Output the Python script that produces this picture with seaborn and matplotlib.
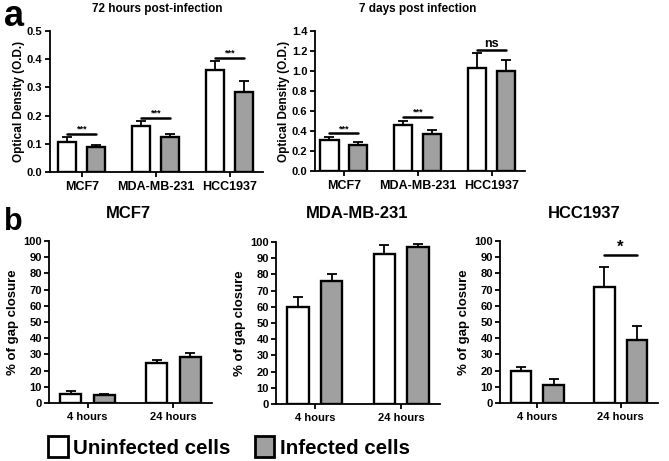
import numpy as np
import pandas as pd
import matplotlib
matplotlib.use('Agg')
import matplotlib.pyplot as plt
from matplotlib.patches import Patch
import seaborn as sns

# panel a
cells = ['MCF7', 'MDA-MB-231', 'HCC1937']
od72_uninf = [0.105, 0.163, 0.360]
od72_uninf_err = [0.018, 0.019, 0.035]
od72_inf = [0.087, 0.124, 0.284]
od72_inf_err = [0.008, 0.012, 0.037]
od72_sig = [0.135, 0.193, 0.405]
od72_sig_txt = ['***', '***', '***']

od7d_uninf = [0.315, 0.464, 1.026]
od7d_uninf_err = [0.025, 0.036, 0.154]
od7d_inf = [0.258, 0.374, 1.000]
od7d_inf_err = [0.030, 0.033, 0.110]
od7d_sig = [0.377, 0.540, 1.215]
od7d_sig_txt = ['***', '***', 'ns']

# panel b
times = ['4 hours', '24 hours']
mcf7_uninf = [5.7, 24.4]
mcf7_uninf_err = [1.5, 2.3]
mcf7_inf = [4.7, 28.1]
mcf7_inf_err = [0.8, 2.7]

mda_uninf = [60.0, 92.6]
mda_uninf_err = [6.0, 5.4]
mda_inf = [76.0, 96.9]
mda_inf_err = [4.0, 2.0]

hcc_uninf = [19.8, 71.6]
hcc_uninf_err = [2.4, 12.4]
hcc_inf = [10.9, 39.1]
hcc_inf_err = [4.1, 8.2]
hcc_sig = [None, 91.6]
hcc_sig_txt = [None, '*']

groups = ['Uninfected cells', 'Infected cells']
gray = '#a0a0a0'

sns.set_style('ticks')
plt.rcParams['font.family'] = ['Liberation Sans', 'DejaVu Sans']
plt.rcParams['font.weight'] = 'bold'
plt.rcParams['axes.labelweight'] = 'bold'
plt.rcParams['axes.linewidth'] = 1.3
plt.rcParams['xtick.major.width'] = 1.3
plt.rcParams['ytick.major.width'] = 1.3
plt.rcParams['xtick.major.size'] = 3.5
plt.rcParams['ytick.major.size'] = 3.5
for k in ['xtick.color', 'ytick.color', 'xtick.labelcolor', 'ytick.labelcolor',
          'axes.edgecolor', 'axes.labelcolor', 'text.color']:
    plt.rcParams[k] = 'black'

W, H = 669, 461
fig = plt.figure(figsize=(W / 100, H / 100), dpi=100)


def box(l, r, t, b):
    return [l / W, 1 - b / H, (r - l) / W, (b - t) / H]


def panel(ax, cats, u, ue, i, ie, ylabel, sig=None, sig_txt=None, sig_size=None):
    df = pd.DataFrame({
        'cat': cats * 2,
        'val': list(u) + list(i),
        'grp': [groups[0]] * len(cats) + [groups[1]] * len(cats),
    })
    sns.barplot(data=df, x='cat', y='val', hue='grp', palette=['white', gray],
                edgecolor='black', linewidth=1.7, width=0.78, gap=0.37,
                errorbar=None, legend=False, ax=ax)
    for cont, err in zip(ax.containers, [ue, ie]):
        xs = [p.get_x() + p.get_width() / 2 for p in cont.patches]
        ys = [p.get_height() for p in cont.patches]
        ax.errorbar(xs, ys, yerr=[np.zeros(len(err)), err], fmt='none',
                    ecolor='black', elinewidth=1.3, capsize=3.5, capthick=1.3,
                    zorder=1)
    if sig is not None:
        c0 = ax.containers[0].patches
        c1 = ax.containers[1].patches
        for k, (y, t) in enumerate(zip(sig, sig_txt)):
            if y is None:
                continue
            x0 = c0[k].get_x() + c0[k].get_width() / 2
            x1 = c1[k].get_x() + c1[k].get_width() / 2
            ax.plot([x0, x1], [y, y], color='black', lw=1.8, clip_on=False)
            fs = sig_size if t == '***' else (9 if t == 'ns' else 12)
            ax.text((x0 + x1) / 2, y, t, ha='center', va='bottom',
                    fontsize=fs, fontweight='bold')
    sns.despine(ax=ax)
    ax.set_xlabel('')
    ax.set_ylabel(ylabel)


ax1 = fig.add_axes(box(50, 263, 31, 172))
panel(ax1, cells, od72_uninf, od72_uninf_err, od72_inf, od72_inf_err,
      'Optical Density (O.D.)', od72_sig, od72_sig_txt, 6.5)
ax1.set_ylim(0, 0.5)
ax1.set_yticks(np.arange(0, 0.51, 0.1))
ax1.set_yticklabels([f'{v:.1f}' for v in np.arange(0, 0.51, 0.1)])
ax1.set_xlim(-0.43, 2.45)

ax2 = fig.add_axes(box(315, 525, 31, 171))
panel(ax2, cells, od7d_uninf, od7d_uninf_err, od7d_inf, od7d_inf_err,
      'Optical Density (O.D.)', od7d_sig, od7d_sig_txt, 6.5)
ax2.set_ylim(0, 1.4)
ax2.set_yticks(np.arange(0, 1.41, 0.2))
ax2.set_yticklabels([f'{v:.1f}' for v in np.arange(0, 1.41, 0.2)])
ax2.set_xlim(-0.39, 2.45)

for ax in (ax1, ax2):
    ax.tick_params(axis='x', labelsize=9, pad=3)
    ax.tick_params(axis='y', labelsize=8, pad=2)
    ax.yaxis.label.set_size(8.5)
    ax.yaxis.labelpad = 1.5

ax3 = fig.add_axes(box(49, 212, 241, 403))
panel(ax3, times, mcf7_uninf, mcf7_uninf_err, mcf7_inf, mcf7_inf_err,
      '% of gap closure')
ax4 = fig.add_axes(box(276, 440, 242, 404))
panel(ax4, times, mda_uninf, mda_uninf_err, mda_inf, mda_inf_err,
      '% of gap closure')
ax5 = fig.add_axes(box(500, 658, 241, 403))
panel(ax5, times, hcc_uninf, hcc_uninf_err, hcc_inf, hcc_inf_err,
      '% of gap closure', hcc_sig, hcc_sig_txt)

for ax in (ax3, ax4, ax5):
    ax.set_ylim(0, 100)
    ax.set_yticks(range(0, 101, 10))
    ax.set_xlim(-0.45, 1.45)
    ax.tick_params(axis='x', labelsize=8, pad=3)
    ax.tick_params(axis='y', labelsize=8, pad=1.5)
    ax.yaxis.label.set_size(9.5)
    ax.yaxis.labelpad = 3

fig.text(157 / W, 1 - 9 / H, '72 hours post-infection', ha='center', va='center',
         fontsize=8.5, fontweight='bold')
fig.text(418 / W, 1 - 9 / H, '7 days post infection', ha='center', va='center',
         fontsize=8.5, fontweight='bold')
fig.text(14 / W, 1 - 17 / H, 'a', ha='center', va='center', fontsize=26,
         fontweight='bold')
fig.text(13 / W, 1 - 222 / H, 'b', ha='center', va='center', fontsize=22,
         fontweight='bold')
fig.text(128 / W, 1 - 213 / H, 'MCF7', ha='center', va='center', fontsize=12,
         fontweight='bold')
fig.text(357 / W, 1 - 213 / H, 'MDA-MB-231', ha='center', va='center',
         fontsize=12, fontweight='bold')
fig.text(584 / W, 1 - 213 / H, 'HCC1937', ha='center', va='center', fontsize=12,
         fontweight='bold')

handles = [Patch(facecolor='white', edgecolor='black', linewidth=2),
           Patch(facecolor=gray, edgecolor='black', linewidth=2)]
fig.legend(handles, groups, loc='center left', bbox_to_anchor=(42 / W, 1 - 447 / H),
           ncol=2, frameon=False, handlelength=0.95,
           handleheight=1.2, handletextpad=0.25, columnspacing=1.2,
           borderaxespad=0, borderpad=0.3,
           prop={'weight': 'bold', 'size': 14.8})

fig.savefig('out.png', dpi=100)
